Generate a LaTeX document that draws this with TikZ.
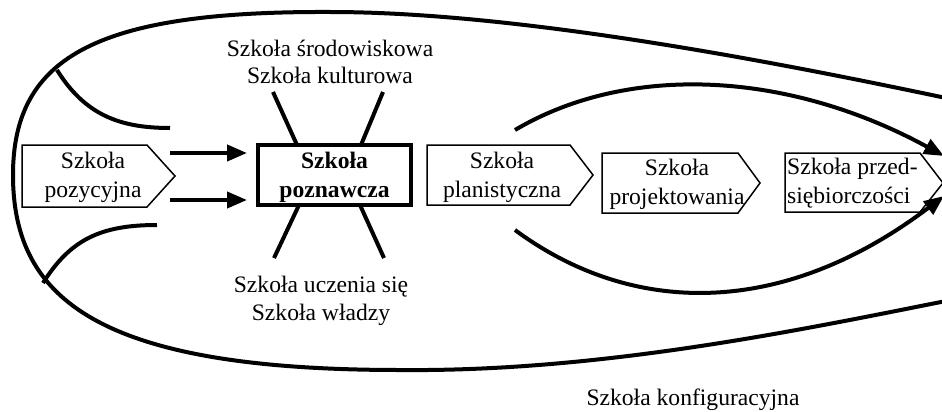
\documentclass[tikz,border=0pt]{standalone}
\usepackage{fontspec}
\setmainfont{Liberation Serif}
\usetikzlibrary{arrows.meta}
\begin{document}
\begin{tikzpicture}[x=1pt,y=-1pt,
  txt/.style={inner sep=0pt, align=center, font=\fontsize{23.6}{29}\selectfont},
  outtxt/.style={inner sep=0pt, align=center, font=\fontsize{23.6}{27.5}\selectfont},
  heavy/.style={line width=4pt},
  pent/.style={draw, line width=1.5pt, line join=miter, fill=white},
  arr/.style={line width=4pt, -{Triangle[length=20pt,width=16pt]}},
]
\useasboundingbox (0,0) rectangle (942,412);
\clip (0,0) rectangle (942,412);

% outer loop (Szkoła konfiguracyjna)
\draw[heavy] (946,98) .. controls (780,63) and (520,12) .. (330,12)
  .. controls (100,11) and (13,55) .. (13,175)
  .. controls (13,300) and (100,370) .. (400,370)
  .. controls (600,372) and (800,330) .. (946,301);

% branches of the loop
\draw[heavy] (57,70) .. controls (85,115) and (120,128) .. (170,128);
\draw[heavy] (43,283) .. controls (70,240) and (100,225) .. (157,225);

% pentagons
\draw[pent] (22,145) -- (147,145) -- (175,176) -- (147,207) -- (22,207) -- cycle;
\draw[pent] (427,145) -- (570,145) -- (593,175) -- (570,205) -- (427,205) -- cycle;
\draw[pent] (602,153) -- (738,153) -- (760,183) -- (738,213) -- (602,213) -- cycle;
\draw[pent] (785,153) -- (920,153) -- (943,183) -- (920,212) -- (785,212) -- cycle;

% central box
\draw[line width=3.5pt] (258,145) rectangle (411,205);

% texts
\node[txt] (poz) at (93,177) {Szkoła\\pozycyjna};
\node[txt, font=\bfseries\fontsize{23.6}{29}\selectfont] (pozn) at (334.5,177) {Szkoła\\poznawcza};
\node[txt] (plan) at (502,177) {Szkoła\\planistyczna};
\node[txt] (proj) at (677,184) {Szkoła\\projektowania};
\node[txt, align=left, anchor=west] (przed) at (787,183) {Szkoła przed-\\siębiorczości};
\node[outtxt] (srod) at (330,62) {Szkoła środowiskowa\\Szkoła kulturowa};
\node[outtxt] (ucz) at (321,301) {Szkoła uczenia się\\Szkoła władzy};
\node[outtxt] (konf) at (693,400) {Szkoła konfiguracyjna};

% rays
\draw[heavy] (273,92) -- (297,145);
\draw[heavy] (383,92) -- (361,145);
\draw[heavy] (299,205) -- (274,258);
\draw[heavy] (360,205) -- (384,258);

% arrows into cognitive school
\coordinate (a1s) at (170,153);
\coordinate (a1e) at (247,153);
\coordinate (a2s) at (170,200);
\coordinate (a2e) at (247,200);
\draw[arr] (a1s) -- (a1e);
\draw[arr] (a2s) -- (a2e);

% curved arrows to entrepreneurial school
\coordinate (c1s) at (515,130);
\coordinate (c1e) at (944,156);
\coordinate (c2s) at (515,230);
\coordinate (c2e) at (944,196);
\draw[arr] (c1s) .. controls (630,62) and (790,72) .. (c1e);
\draw[arr] (c2s) .. controls (630,315) and (780,320) .. (c2e);
\end{tikzpicture}
\end{document}
